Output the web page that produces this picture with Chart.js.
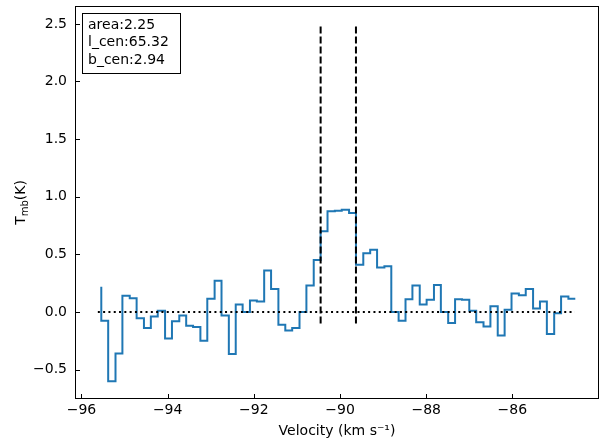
<html>
<head>
<style>body{margin:0;background:#fff}</style>
</head>
<body>
<script src="https://cdn.jsdelivr.net/npm/chart.js@4/dist/chart.umd.min.js"></script>
<canvas id="myChart" width="600" height="448"></canvas>
<script>
// channel velocities (km/s) and brightness temperatures (K)
const velocity = [-95.54,-95.38,-95.21,-95.05,-94.88,-94.72,-94.55,-94.39,-94.23,-94.06,
  -93.90,-93.73,-93.57,-93.41,-93.24,-93.08,-92.91,-92.75,-92.58,-92.42,
  -92.26,-92.09,-91.93,-91.76,-91.60,-91.43,-91.27,-91.11,-90.94,-90.78,
  -90.61,-90.45,-90.29,-90.12,-89.96,-89.79,-89.63,-89.46,-89.30,-89.14,
  -88.97,-88.81,-88.64,-88.48,-88.32,-88.15,-87.99,-87.82,-87.66,-87.49,
  -87.33,-87.17,-87.00,-86.84,-86.67,-86.51,-86.34,-86.18,-86.02,-85.85,
  -85.69,-85.52,-85.36,-85.20,-85.03,-84.87,-84.70,-84.54];
const tmb = [0.22,-0.075,-0.60,-0.36,0.14,0.12,-0.055,-0.14,-0.04,0.01,
  -0.23,-0.08,-0.03,-0.12,-0.13,-0.25,0.115,0.27,-0.03,-0.365,
  0.066,0.0,0.10,0.09,0.36,0.20,-0.11,-0.16,-0.14,0.0,
  0.23,0.45,0.70,0.875,0.879,0.888,0.859,0.41,0.51,0.54,
  0.385,0.397,0.0,-0.075,0.11,0.23,0.066,0.106,0.235,0.0,
  -0.095,0.11,0.106,0.01,-0.09,-0.125,0.05,-0.205,0.02,0.16,
  0.145,0.20,0.03,0.09,-0.19,-0.01,0.135,0.115];
const windowV = [-90.45, -89.63];     // integration limits (dashed)
const windowY = [-0.1, 2.5];
const baseV = [-95.62, -84.55];       // zero baseline (dotted)
const xTicks = [-96,-94,-92,-90,-88,-86];
const yTicks = [-0.5,0.0,0.5,1.0,1.5,2.0,2.5];
const infoLines = ['area:2.25','l_cen:65.32','b_cen:2.94'];

const FONT = 'DejaVu Sans';
const minus = s => s.replace('-', '\u2212');

const decor = {
  id: 'decor',
  afterDraw(chart) {
    const ctx = chart.ctx, a = chart.chartArea;
    const xs = chart.scales.x, ys = chart.scales.y;
    ctx.save();
    ctx.strokeStyle = '#000';
    ctx.lineWidth = 1;
    ctx.strokeRect(a.left + 0.5, a.top + 0.5, a.right - a.left - 1, a.bottom - a.top - 1);
    // inward ticks
    ctx.beginPath();
    xTicks.forEach(v => {
      const px = Math.round(xs.getPixelForValue(v)) + 0.5;
      ctx.moveTo(px, a.bottom); ctx.lineTo(px, a.bottom - 5);
    });
    yTicks.forEach(v => {
      const py = Math.round(ys.getPixelForValue(v)) + 0.5;
      ctx.moveTo(a.left, py); ctx.lineTo(a.left + 5, py);
    });
    ctx.stroke();
    // info box
    ctx.fillStyle = '#fff';
    ctx.fillRect(82.5, 13.5, 98, 60);
    ctx.strokeRect(82.5, 13.5, 98, 60);
    ctx.fillStyle = '#000';
    ctx.font = '14px "' + FONT + '"';
    ctx.textBaseline = 'middle';
    ctx.textAlign = 'left';
    infoLines.forEach((t, i) => ctx.fillText(t, 88, 25 + i * 17.5));
    // y label with subscript
    ctx.translate(20, (a.top + a.bottom) / 2);
    ctx.rotate(-Math.PI / 2);
    const f1 = '14px "' + FONT + '"', f2 = '10px "' + FONT + '"';
    ctx.font = f1; const wT = ctx.measureText('T').width, wK = ctx.measureText('(K)').width;
    ctx.font = f2; const wS = ctx.measureText('mb').width;
    let x0 = -(wT + wS + wK) / 2;
    ctx.textBaseline = 'alphabetic';
    ctx.font = f1; ctx.fillText('T', x0, 5);
    ctx.font = f2; ctx.fillText('mb', x0 + wT, 8);
    ctx.font = f1; ctx.fillText('(K)', x0 + wT + wS, 5);
    ctx.restore();
  }
};

const ctx = document.getElementById('myChart').getContext('2d');
const myChart = new Chart(ctx, {
  type: 'line',
  data: {
    datasets: [
      { data: [{x: windowV[0], y: windowY[0]}, {x: windowV[0], y: windowY[1]}],
        borderColor: '#000', borderWidth: 2, borderDash: [7, 3], pointRadius: 0 },
      { data: [{x: windowV[1], y: windowY[0]}, {x: windowV[1], y: windowY[1]}],
        borderColor: '#000', borderWidth: 2, borderDash: [7, 3], pointRadius: 0 },
      { data: [{x: baseV[0], y: 0}, {x: baseV[1], y: 0}],
        borderColor: '#000', borderWidth: 2, borderDash: [2, 3.3], pointRadius: 0 },
      { data: velocity.map((v, i) => ({x: v, y: tmb[i]})),
        borderColor: '#1f77b4', borderWidth: 2, stepped: 'after', pointRadius: 0,
        borderJoinStyle: 'miter', borderCapStyle: 'butt' }
    ]
  },
  options: {
    responsive: false,
    animation: false,
    devicePixelRatio: 1,
    layout: { padding: { left: 0, right: 1, top: 6, bottom: 0 } },
    plugins: { legend: { display: false }, tooltip: { enabled: false } },
    scales: {
      x: {
        type: 'linear', min: -96.15, max: -83.99,
        grid: { display: false, drawTicks: false, tickLength: 0 },
        border: { display: false },
        afterFit: s => { s.height = 49; s.paddingLeft = 0; s.paddingRight = 0; },
        afterBuildTicks: s => { s.ticks = xTicks.map(v => ({value: v})); },
        ticks: { color: '#000', padding: 3, maxRotation: 0, autoSkip: false,
          font: { family: FONT, size: 14 }, callback: v => minus(String(v)) },
        title: { display: true, text: 'Velocity (km s\u207B\u00B9)', color: '#000',
          font: { family: FONT, size: 14 }, padding: { top: 0, bottom: 8 } }
      },
      y: {
        type: 'linear', min: -0.755, max: 2.655,
        grid: { display: false, drawTicks: false, tickLength: 0 },
        border: { display: false },
        afterFit: s => { s.width = 75; s.paddingTop = 0; s.paddingBottom = 0; },
        afterBuildTicks: s => { s.ticks = yTicks.map(v => ({value: v})); },
        ticks: { color: '#000', padding: 8, autoSkip: false,
          font: { family: FONT, size: 14 }, callback: v => minus(v.toFixed(1)) }
      }
    }
  },
  plugins: [decor]
});
</script>
</body>
</html>
